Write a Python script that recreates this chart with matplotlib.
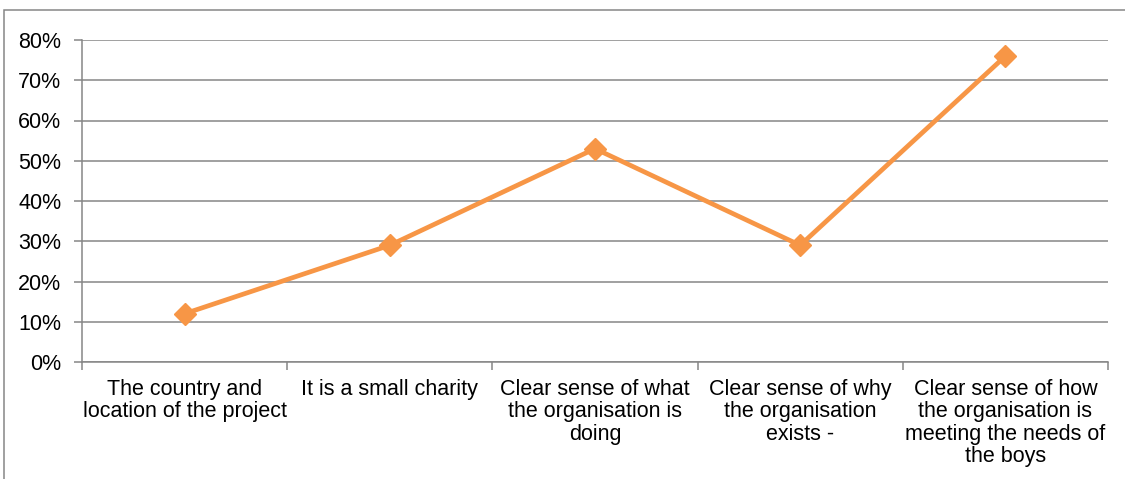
import matplotlib.pyplot as plt
from matplotlib.patches import Rectangle
from matplotlib.ticker import PercentFormatter, FixedLocator

plt.rcParams['font.family'] = ['Liberation Sans', 'DejaVu Sans']

categories = [
    "The country and\nlocation of the project",
    "It is a small charity",
    "Clear sense of what\nthe organisation is\ndoing",
    "Clear sense of why\nthe organisation\nexists -",
    "Clear sense of how\nthe organisation is\nmeeting the needs of\nthe boys",
]
values = [0.12, 0.29, 0.53, 0.29, 0.76]

grey = "#868686"
orange = "#F79646"

fig = plt.figure(figsize=(11.25, 4.79), dpi=100)
ax = fig.add_axes([82 / 1125, 1 - 362 / 479, (1108 - 82) / 1125, (362 - 40) / 479])

x = list(range(len(categories)))
ax.plot(x, values, color=orange, linewidth=3.4, marker="D", markersize=11,
        markeredgecolor=orange, markerfacecolor=orange, zorder=3)

ax.set_xlim(-0.5, len(categories) - 0.5)
ax.set_ylim(0, 0.8)
ax.set_yticks([i / 10 for i in range(9)])
ax.yaxis.set_major_formatter(PercentFormatter(1.0, decimals=0))
ax.grid(axis="y", color=grey, linewidth=1.1)
ax.set_axisbelow(True)

ax.set_xticks(x)
ax.set_xticklabels(categories, fontsize=15.5, linespacing=1.09, va="top")
ax.xaxis.set_minor_locator(FixedLocator([i - 0.5 for i in range(len(categories) + 1)]))
ax.tick_params(axis="x", which="major", length=0, pad=12)
ax.tick_params(axis="x", which="minor", length=6, color=grey, width=1.1, direction="out")
ax.tick_params(axis="y", length=6, color=grey, width=1.1, labelsize=15.5, pad=9)

for s in ["top", "right"]:
    ax.spines[s].set_visible(False)
for s in ["left", "bottom"]:
    ax.spines[s].set_color(grey)
    ax.spines[s].set_linewidth(1.1)

# outer chart border
fig.patches.append(Rectangle((4 / 1125, -0.1), 1.2, 1 - 10 / 479 + 0.1,
                             transform=fig.transFigure, fill=False,
                             edgecolor=grey, linewidth=1.1))

fig.savefig("out.png", dpi=100)
